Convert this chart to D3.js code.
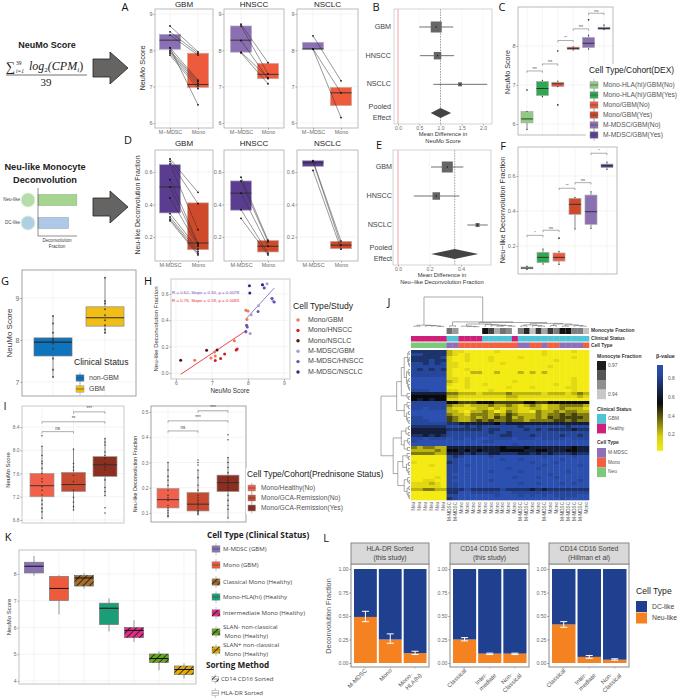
<!DOCTYPE html>
<html>
<head>
<meta charset="utf-8">
<script src="https://cdn.jsdelivr.net/npm/d3@7"></script>
<style>
  html, body { margin: 0; padding: 0; background: #fff; }
  svg { display: block; font-family: "Liberation Sans", Arial, sans-serif; }
</style>
</head>
<body>
<script>
// ---- values ----
// box stats are [q1, median, q3, whisker low, whisker high]
const pairCategories = ['M\u2212MDSC', 'Mono'];
const pairCategoriesD = ['M-MDSC', 'Mono'];

const scoreGbmMdsc = [8.67, 8.51, 8.42, 8.07, 8.0, 7.96, 7.92, 7.87, 8.07];
const scoreGbmMono = [7.96, 7.92, 7.87, 7.18, 7.14, 7.09, 7.02, 6.95, 6.5];
const scoreHnsccMdsc = [8.72, 8.67, 8.27, 7.95, 7.93];
const scoreHnsccMono = [7.66, 7.35, 7.22, 7.25, 7.08];
const scoreNsclcMdsc = [8.4, 8.04, 8.03];
const scoreNsclcMono = [7.16, 6.83, 6.15];
const scoreBoxes = [
  [[8.03, 8.28, 8.44, 7.87, 8.67], [6.98, 7.06, 7.92, 6.5, 7.96]],
  [[7.95, 8.28, 8.67, 7.93, 8.72], [7.22, 7.34, 7.64, 7.08, 7.66]],
  [[8.03, 8.04, 8.22, 8.03, 8.4], [6.48, 6.83, 6.98, 6.15, 7.16]]
];

const fracGbmMdsc = [0.68, 0.666, 0.65, 0.553, 0.508, 0.44, 0.344, 0.323, 0.31, 0.30];
const fracGbmMono = [0.475, 0.405, 0.245, 0.163, 0.153, 0.143, 0.126, 0.112, 0.10, 0.09];
const fracHnsccMdsc = [0.568, 0.545, 0.47, 0.368, 0.315];
const fracHnsccMono = [0.18, 0.17, 0.143, 0.10, 0.09];
const fracNsclcMdsc = [0.67, 0.665, 0.61];
const fracNsclcMono = [0.175, 0.15, 0.125];
const fracBoxes = [
  [[0.348, 0.508, 0.645, 0.30, 0.68], [0.122, 0.163, 0.41, 0.09, 0.475]],
  [[0.365, 0.47, 0.545, 0.315, 0.568], [0.108, 0.143, 0.178, 0.09, 0.18]],
  [[0.635, 0.657, 0.67, 0.61, 0.67], [0.128, 0.15, 0.173, 0.125, 0.175]]
];

const forestRows = ['GBM', 'HNSCC', 'NSCLC', 'Pooled'];
const forestBEst = [0.9, 0.93, 1.46, 1.0];
const forestBLow = [0.5, 0.52, 0.83, 0.77];
const forestBHigh = [1.3, 1.32, 2.1, 1.25];
const forestEEst = [0.313, 0.243, 0.505, 0.36];
const forestELow = [0.21, 0.10, 0.44, 0.21];
const forestEHigh = [0.415, 0.39, 0.57, 0.51];
const forestWeight = [3, 2, 1];

const dexCategories = ['Mono-HLA(hi)/GBM(No)', 'Mono-HLA(hi)/GBM(Yes)', 'Mono/GBM(No)', 'Mono/GBM(Yes)', 'M-MDSC/GBM(No)', 'M-MDSC/GBM(Yes)'];
const dexColors = ['#8FCB85', '#2FA84F', '#EE5A3C', '#CF4A2A', '#8B6FB3', '#5F4398'];
const dexScoreBoxes = [
  [6.03, 6.13, 6.32, 5.86, 6.32], [6.73, 6.91, 7.09, 6.7, 7.12], [6.96, 7.03, 7.07, 6.96, 7.1],
  [7.91, 7.94, 7.97, 7.9, 7.98], [7.96, 8.07, 8.22, 7.92, 8.28], [8.43, 8.45, 8.48, 8.42, 8.54]
];
const dexScoreOutliers = [[6.87], [], [6.49, 7.87], [], [8.67], []];
const dexScoreBrackets = [[0, 1, 7.36, 'ns'], [1, 2, 7.54, 'ns'], [2, 3, 8.14, '**'], [3, 4, 8.44, 'ns'], [4, 5, 8.84, 'ns']];
const dexFracBoxes = [
  [0.07, 0.074, 0.08, 0.066, 0.085], [0.105, 0.135, 0.164, 0.097, 0.183], [0.114, 0.135, 0.16, 0.095, 0.17],
  [0.381, 0.438, 0.472, 0.297, 0.478], [0.324, 0.396, 0.491, 0.30, 0.51], [0.648, 0.659, 0.668, 0.638, 0.68]
];
const dexFracOutliers = [[], [], [0.245], [], [], []];
const dexFracBrackets = [[0, 1, 0.261, '*'], [1, 2, 0.29, 'ns'], [2, 3, 0.53, '**'], [3, 4, 0.562, 'ns'], [4, 5, 0.73, '*']];

const statusCategories = ['non-GBM', 'GBM'];
const statusColors = ['#0D74BD', '#F1BE17'];
const statusBoxes = [[7.62, 7.95, 8.05, 7.12, 8.57], [8.33, 8.53, 8.79, 8.15, 9.48]];
const statusNonGbm = [8.57, 8.39, 8.17, 8.03, 7.99, 7.95, 7.91, 7.79, 7.56, 7.29, 7.12];
const statusGbm = [9.48, 8.93, 8.87, 8.73, 8.59, 8.47, 8.35, 8.25, 8.17];

const studyLabels = ['Mono/GBM', 'Mono/HNSCC', 'Mono/NSCLC', 'M-MDSC/GBM', 'M-MDSC/HNSCC', 'M-MDSC/NSCLC'];
const studyColors = ['#F0764F', '#D0202A', '#5A0F10', '#A89BD8', '#6A55AE', '#3B1F86'];
const studyScoreX = [
  [6.52, 6.97, 7.09, 7.07, 7.62, 7.94, 8.0, 7.97],
  [7.09, 7.24, 7.35, 7.67, 7.7],
  [6.13, 6.85, 7.14],
  [7.94, 8.06, 8.09, 8.29, 8.45, 8.53, 8.41, 8.66, 8.7],
  [7.96, 7.98, 7.94, 8.28, 8.67, 8.73, 8.45],
  [8.04, 8.05, 8.4]
];
const studyFracY = [
  [0.096, 0.114, 0.13, 0.16, 0.245, 0.476, 0.47, 0.406],
  [0.094, 0.11, 0.144, 0.175, 0.182],
  [0.096, 0.172, 0.175],
  [0.311, 0.30, 0.443, 0.51, 0.648, 0.678, 0.67, 0.567, 0.544],
  [0.362, 0.35, 0.316, 0.468, 0.565, 0.54, 0.645],
  [0.663, 0.608, 0.671]
];
const fitMono = [[6.13, -0.01], [7.96, 0.324]];
const fitMdsc = [[7.94, 0.41], [8.73, 0.645]];

const gcaCategories = ['Mono/Healthy(No)', 'Mono/GCA-Remission(No)', 'Mono/GCA-Remission(Yes)'];
const gcaColors = ['#F0604A', '#C84A30', '#8C2E20'];
const gcaScoreBoxes = [[7.2, 7.39, 7.6, 6.83, 8.07], [7.29, 7.41, 7.62, 6.97, 8.02], [7.55, 7.75, 7.89, 7.22, 8.2]];
const gcaScorePoints = [
  [8.25, 8.07, 7.91, 7.81, 7.77, 7.69, 7.6, 7.51, 7.46, 7.37, 7.31, 7.23, 7.14, 7.07, 7.0, 6.94, 6.83],
  [8.02, 7.77, 7.71, 7.66, 7.57, 7.46, 7.31, 7.19, 7.11, 7.03, 6.97],
  [8.2, 8.14, 8.09, 7.97, 7.91, 7.86, 7.77, 7.71, 7.66, 7.49, 7.36, 7.29, 7.22, 7.01, 6.92]
];
const gcaScoreBrackets = [[0, 1, 8.32, 'ns'], [0, 2, 8.49, '**'], [1, 2, 8.66, '***']];
const gcaFracBoxes = [[0.12, 0.153, 0.197, 0.084, 0.30], [0.108, 0.135, 0.181, 0.09, 0.27], [0.185, 0.22, 0.25, 0.08, 0.32]];
const gcaFracPoints = [
  [0.30, 0.27, 0.245, 0.23, 0.21, 0.19, 0.17, 0.16, 0.15, 0.13, 0.12, 0.11, 0.10, 0.09, 0.085],
  [0.31, 0.30, 0.29, 0.27, 0.24, 0.21, 0.19, 0.17, 0.16, 0.15, 0.14, 0.13, 0.12, 0.11, 0.105, 0.10, 0.095],
  [0.41, 0.39, 0.32, 0.30, 0.28, 0.26, 0.24, 0.23, 0.22, 0.21, 0.20, 0.19, 0.17, 0.15, 0.13, 0.115, 0.08]
];
const gcaFracBrackets = [[0, 1, 0.425, 'ns'], [0, 2, 0.465, '***'], [1, 2, 0.505, '***']];

const sortCategories = ['M-MDSC (GBM)', 'Mono (GBM)', 'Classical Mono (Healthy)', 'Mono-HLA(hi) (Healthy', 'Intermediate Mono (Healthy)', 'SLAN- non-classical', 'SLAN+ non-classical'];
const sortColors = ['#8A70B5', '#EE5A3C', '#A66E2A', '#1B9E77', '#E7298A', '#66A61E', '#E6AB02'];
const sortHatched = [false, false, true, false, true, true, true];
const sortBoxes = [
  [8.04, 8.29, 8.44, 7.94, 8.67], [7.01, 7.46, 7.91, 6.49, 7.96], [7.55, 7.85, 7.95, 7.46, 8.03],
  [6.11, 6.72, 6.91, 5.85, 7.09], [5.62, 5.89, 6.0, 5.46, 6.27], [4.69, 4.84, 5.01, 4.4, 5.11], [4.24, 4.43, 4.56, 4.1, 4.66]
];

const facetTitles = [['HLA-DR Sorted', '(this study)'], ['CD14 CD16 Sorted', '(this study)'], ['CD14 CD16 Sorted', '(Hillman et al)']];
const facetCategories = [['M-MDSC', 'Mono', 'Mono-|HLA(hi)'], ['Classical', 'Inter-|mediate', 'Non-|Classical'], ['Classical', 'Inter-|mediate', 'Non-|Classical']];
const facetNeuLike = [[0.49, 0.25, 0.105], [0.25, 0.10, 0.10], [0.41, 0.065, 0.035]];
const facetErrLow = [[0.44, 0.21, 0.09], [0.235, 0.09, 0.09], [0.38, 0.05, 0.03]];
const facetErrHigh = [[0.55, 0.31, 0.125], [0.27, 0.105, 0.105], [0.44, 0.08, 0.045]];

// heatmap columns, then rows as digits: beta = 0.05 + digit / 10
const heatColumns = ['Neu','Neu','Neu','Neu','Neu','Neu','M-MDSC','M-MDSC','Mono','Mono','Mono','Mono','Mono','Mono','Mono','Mono','Mono','Mono',
  'M-MDSC','M-MDSC','Mono','Mono','M-MDSC','Mono','Mono','M-MDSC','M-MDSC','M-MDSC','M-MDSC','Mono'];
const heatClinical = ['Healthy','Healthy','Healthy','Healthy','Healthy','Healthy','GBM','GBM','Healthy','Healthy','Healthy','Healthy','GBM','GBM','GBM','GBM','GBM','Healthy',
  'GBM','GBM','GBM','GBM','GBM','GBM','GBM','GBM','GBM','GBM','GBM','GBM'];
const heatMonocyte = [null,null,null,null,null,null,0.955,0.948,null,null,null,null,0.972,0.963,0.945,0.955,0.951,null,
  0.953,0.968,0.941,0.965,0.946,0.965,0.953,0.972,0.972,0.953,0.953,0.941];
const heatRows = [
  '777777 211000 001000 000010 000100',
  '887777 210100 000000 000010 000000',
  '777778 100100 010000 100000 000100',
  '777877 100100 010000 000000 100000',
  '887878 110000 000100 000000 000000',
  '888888 110000 000000 000001 000000',
  '878787 100100 000000 000000 000000',
  '888888 100022 002000 202020 000000',
  '888888 100000 000000 000000 000000',
  '999999 110100 000000 000000 000100',
  '999999 210100 000001 000000 000100',
  '999999 100100 100000 000000 100100',
  '999999 000100 000010 001000 001100',
  '888999 110000 010000 000000 000100',
  '666666 332221 222232 222212 221232',
  '555555 221111 111122 111111 111121',
  '565655 110000 000011 000000 000000',
  '888888 554445 554444 455445 555555',
  '888888 322122 232232 123212 233332',
  '889888 211112 212122 112212 232221',
  '999999 221022 320132 110322 323322',
  '999999 322133 323243 222323 343433',
  '889999 432232 324342 322324 344443',
  '888999 432234 343343 323333 443433',
  '888888 776666 665766 666666 666666',
  '777777 888787 888888 788888 887888',
  '666666 777777 877888 878787 777677',
  '666666 888888 878878 888888 888888',
  '776767 888888 888778 887888 878878',
  '889888 988989 988889 888988 889888',
  '899999 999999 889999 999999 999999',
  '999999 999999 999998 999999 999999',
  '323322 666666 666566 656666 666566',
  '222232 556565 666555 566556 665566',
  '333322 666767 766777 667676 777677',
  '000000 878999 989999 999989 999899',
  '000000 889999 999899 899999 989999',
  '100000 789999 999999 998999 899999',
  '000100 889899 999999 999989 999989',
  '000000 889999 999989 999899 999999',
  '000000 889999 989999 899999 998999',
  '000000 899999 999999 999998 999999',
  '000010 889999 999998 999899 899999',
  '001100 899999 989999 999999 999989',
  '111210 889999 999999 899899 989899',
  '111110 889999 999999 999999 999999',
  '223322 777877 777877 776767 777777',
  '000000 779988 888998 888888 888888',
  '000000 889999 998999 898989 888899',
  '000000 789999 999999 999999 989999'
];
// dendrograms: [merge height, left, right], numbers are leaf indices
const colTree = [1,
  [0.06, [0.03, 0, 1], [0.05, 2, [0.04, 3, [0.02, 4, 5]]]],
  [0.17, [0.04, 6, 7], [0.15,
    [0.1, [0.03, 8, [0.02, 9, [0.01, 10, 11]]], [0.08, 12, [0.06, 13, [0.05, [0.03, 14, 15], [0.03, 16, 17]]]]],
    [0.12, [0.07, [0.04, 18, 19], [0.05, 20, [0.03, 21, 22]]], [0.1, [0.05, 23, 24], [0.07, [0.03, 25, 26], [0.05, 27, [0.03, 28, 29]]]]]
  ]]
];
const rowTree = [1,
  [0.46,
    [0.3,
      [0.2, [0.08, [0.04, 0, 1], [0.05, [0.03, 2, 3], [0.02, 4, 5]]], [0.12, [0.06, 6, [0.03, 7, 8]], [0.08, [0.04, 9, 10], [0.05, 11, [0.02, 12, 13]]]]],
      [0.1, 14, [0.05, 15, 16]]],
    [0.2, [0.1, 17, [0.05, 18, 19]], [0.12, [0.05, 20, 21], [0.08, 22, [0.04, 23, 24]]]]],
  [0.58,
    [0.3, [0.14, [0.05, 25, 26], [0.06, 27, 28]], [0.2, [0.08, 29, [0.03, 30, 31]], [0.09, 32, 33]]],
    [0.42,
      [0.25, [0.1, 34, [0.05, 35, 36]], [0.12, [0.05, 37, 38], [0.07, 39, [0.04, 40, 41]]]],
      [0.2, [0.08, 42, [0.03, 43, 44]], [0.1, [0.04, 45, 46], [0.06, 47, [0.03, 48, 49]]]]]]
];

const cellTypeColors = { 'M-MDSC': '#8F6FB8', 'Mono': '#F2603F', 'Neu': '#7CC87C' };
const clinicalColors = { 'GBM': '#4FC4D6', 'Healthy': '#CE2079' };

// ---- helpers ----
const svg = d3.select('body').append('svg').attr('width', 680).attr('height', 700);
const defs = svg.append('defs');
const tickGrey = '#6b6b6b';

function txt(x, y, s, size, opts) {
  opts = opts || {};
  const t = svg.append('text')
    .attr('x', x).attr('y', y)
    .attr('font-size', size)
    .attr('fill', opts.fill || '#333')
    .attr('text-anchor', opts.anchor || 'start')
    .attr('dominant-baseline', 'middle')
    .text(s);
  if (opts.bold) t.attr('font-weight', 'bold');
  if (opts.family) t.attr('font-family', opts.family);
  return t;
}

function vtxt(x, y, s, size, opts) {
  return txt(0, 0, s, size, Object.assign({ anchor: 'middle' }, opts))
    .attr('transform', `translate(${x},${y}) rotate(-90)`);
}

// white panel with gridlines, frame and axes. returns the scales
function panel(p) {
  const g = svg.append('g');
  const y = d3.scaleLinear().domain(p.yDomain).range(p.yRange);
  const x = p.x;
  g.selectAll('.gy').data(p.yTicks).enter().append('line')
    .attr('x1', p.x0).attr('x2', p.x1).attr('y1', d => y(d)).attr('y2', d => y(d))
    .attr('stroke', '#ececec').attr('stroke-width', 0.6);
  const xVals = x.domain();
  g.selectAll('.gx').data(xVals).enter().append('line')
    .attr('x1', d => x(d)).attr('x2', d => x(d)).attr('y1', p.y0).attr('y2', p.y1)
    .attr('stroke', '#ececec').attr('stroke-width', 0.6);
  const fs = p.tickSize || 5.5;
  const ya = g.append('g').attr('transform', `translate(${p.x0},0)`)
    .call(d3.axisLeft(y).tickValues(p.yTicks).tickFormat(p.yFormat || d3.format('d')).tickSize(1.5).tickPadding(1));
  ya.select('.domain').remove();
  ya.selectAll('text').attr('font-size', fs).attr('fill', tickGrey);
  ya.selectAll('line').attr('stroke', '#999');
  if (p.showX) {
    const xa = g.append('g').attr('transform', `translate(0,${p.y1})`)
      .call(d3.axisBottom(x).tickSize(1.5).tickPadding(1));
    xa.select('.domain').remove();
    xa.selectAll('text').attr('font-size', p.xTickSize || 5.5).attr('fill', tickGrey);
    xa.selectAll('line').attr('stroke', '#999');
  }
  g.append('rect').attr('x', p.x0).attr('y', p.y0)
    .attr('width', p.x1 - p.x0).attr('height', p.y1 - p.y0)
    .attr('fill', 'none').attr('stroke', p.frame || '#b4b4b4').attr('stroke-width', 0.9);
  return { g, x, y };
}

function box(pn, cx, width, stat, fill, opts) {
  opts = opts || {};
  const y = pn.y, g = pn.g;
  g.append('line').attr('x1', cx).attr('x2', cx).attr('y1', y(stat[3])).attr('y2', y(stat[4]))
    .attr('stroke', opts.whisker || '#444').attr('stroke-width', 0.6);
  g.append('rect').attr('x', cx - width / 2).attr('width', width)
    .attr('y', y(stat[2])).attr('height', y(stat[0]) - y(stat[2]))
    .attr('fill', fill).attr('stroke', opts.stroke || '#9a9a9a').attr('stroke-width', 0.7);
  if (opts.hatch) {
    g.append('rect').attr('x', cx - width / 2).attr('width', width)
      .attr('y', y(stat[2])).attr('height', y(stat[0]) - y(stat[2]))
      .attr('fill', 'url(#hatch)');
  }
  g.append('line').attr('x1', cx - width / 2).attr('x2', cx + width / 2).attr('y1', y(stat[1])).attr('y2', y(stat[1]))
    .attr('stroke', opts.median || '#2b2b2b').attr('stroke-width', opts.medianWidth || 0.9);
}

function dots(pn, cx, vals, r, fill, opacity) {
  pn.g.selectAll('.d').data(vals).enter().append('circle')
    .attr('cx', cx).attr('cy', d => pn.y(d)).attr('r', r)
    .attr('fill', fill).attr('opacity', opacity === undefined ? 1 : opacity);
}

function bracket(pn, xa, xb, v, label, size) {
  const yy = pn.y(v);
  pn.g.append('path').attr('d', d3.line()([[xa, yy + 1.8], [xa, yy], [xb, yy], [xb, yy + 1.8]]))
    .attr('fill', 'none').attr('stroke', '#777').attr('stroke-width', 0.6);
  pn.g.append('text').attr('x', (xa + xb) / 2).attr('y', yy - 1.5).attr('text-anchor', 'middle')
    .attr('font-size', size || 4.5).attr('fill', '#444').text(label);
}

function legendKey(x, y, w, color, opts) {
  opts = opts || {};
  svg.append('line').attr('x1', x + w / 2).attr('x2', x + w / 2).attr('y1', y - w * 0.72).attr('y2', y + w * 0.72)
    .attr('stroke', '#777').attr('stroke-width', 0.5);
  svg.append('rect').attr('x', x).attr('y', y - w / 2.5).attr('width', w).attr('height', w / 1.25)
    .attr('fill', color).attr('stroke', '#999').attr('stroke-width', 0.5);
  if (opts.hatch) {
    svg.append('rect').attr('x', x).attr('y', y - w / 2.5).attr('width', w).attr('height', w / 1.25).attr('fill', 'url(#hatch)');
  }
  svg.append('line').attr('x1', x).attr('x2', x + w).attr('y1', y).attr('y2', y)
    .attr('stroke', '#444').attr('stroke-width', 0.6);
}

function arrow(cy) {
  const shape = [[93, -9], [110, -9], [110, -16], [128, 0], [110, 16], [110, 9], [93, 9]];
  svg.append('polygon').attr('points', shape.map(d => [d[0], d[1] + cy].join(',')).join(' '))
    .attr('fill', '#666462').attr('stroke', '#222').attr('stroke-width', 0.8);
}

const hatch = defs.append('pattern').attr('id', 'hatch').attr('patternUnits', 'userSpaceOnUse')
  .attr('width', 4.5).attr('height', 4.5).attr('patternTransform', 'rotate(45)');
hatch.append('line').attr('x1', 0).attr('x2', 0).attr('y1', 0).attr('y2', 4.5).attr('stroke', '#1a1a1a').attr('stroke-width', 1.6);

// ---- left schematics ----
txt(47, 46, 'NeuMo Score', 9, { bold: true, anchor: 'middle', fill: '#222' });
const serif = '"Liberation Serif", serif';
const formula = svg.append('text').attr('x', 6).attr('y', 71)
  .attr('font-family', serif).attr('font-size', 12).attr('fill', '#222');
formula.append('tspan').attr('font-size', 13).text('\u2211');
formula.append('tspan').attr('x', 16).attr('y', 65).attr('font-size', 5.5).text('39');
formula.append('tspan').attr('x', 16).attr('y', 73).attr('font-size', 5.5).attr('font-style', 'italic').text('i=1');
formula.append('tspan').attr('x', 29).attr('y', 70).attr('font-style', 'italic').text('log');
formula.append('tspan').attr('y', 72).attr('font-size', 7).text('2');
formula.append('tspan').attr('y', 70).attr('font-style', 'italic').text('(CPM');
formula.append('tspan').attr('y', 72).attr('font-size', 7).attr('font-style', 'italic').text('i');
formula.append('tspan').attr('y', 70).text(')');
svg.append('line').attr('x1', 6).attr('x2', 87).attr('y1', 75).attr('y2', 75).attr('stroke', '#333').attr('stroke-width', 0.7);
txt(46, 83, '39', 11, { anchor: 'middle', family: serif, fill: '#222' });
arrow(68);

txt(45, 168, 'Neu-like Monocyte', 9.2, { bold: true, anchor: 'middle', fill: '#222' });
txt(45, 181, 'Deconvolution', 9.2, { bold: true, anchor: 'middle', fill: '#222' });
const cartoonNames = ['Neu-like', 'DC-like'];
const cartoonValues = [0.95, 0.75];
const cartoonFill = ['#A5D58E', '#AFC8E8'];
const cartoonDot = ['#B4DDA8', '#B0D0E2'];
const cartoonX = d3.scaleLinear().domain([0, 1]).range([38, 79]);
const cartoonY = d3.scaleBand().domain(cartoonNames).range([188.5, 234.5]).paddingInner(0.5).paddingOuter(0.25);
cartoonNames.forEach((n, i) => {
  const yc = cartoonY(n) + cartoonY.bandwidth() / 2;
  svg.append('rect').attr('x', 38).attr('y', cartoonY(n)).attr('width', cartoonX(cartoonValues[i]) - 38)
    .attr('height', cartoonY.bandwidth()).attr('fill', cartoonFill[i]).attr('stroke', '#8a9a8a').attr('stroke-width', 0.3);
  svg.append('circle').attr('cx', 28).attr('cy', yc).attr('r', 7).attr('fill', cartoonDot[i])
    .attr('stroke', '#dfeee0').attr('stroke-width', 1);
  txt(20, yc, n, 4.6, { anchor: 'end', fill: '#444' });
});
svg.append('path').attr('d', d3.line()([[38, 188], [38, 236], [77, 236]])).attr('fill', 'none').attr('stroke', '#444').attr('stroke-width', 0.6);
txt(57, 241, 'Deconvolution', 4.6, { anchor: 'middle', fill: '#444' });
txt(57, 247, 'Fraction', 4.6, { anchor: 'middle', fill: '#444' });
arrow(207);

// ---- panels A and D, paired boxes ----
const pairTitles = ['GBM', 'HNSCC', 'NSCLC'];
const panelEdges = [[155, 213], [224, 284], [297, 358]];
const pairCenters = [[170, 198], [241, 268], [313, 341]];
const scorePairs = [[scoreGbmMdsc, scoreGbmMono], [scoreHnsccMdsc, scoreHnsccMono], [scoreNsclcMdsc, scoreNsclcMono]];
const fracPairs = [[fracGbmMdsc, fracGbmMono], [fracHnsccMdsc, fracHnsccMono], [fracNsclcMdsc, fracNsclcMono]];

function pairPanels(o) {
  pairTitles.forEach((title, i) => {
    const x = d3.scalePoint().domain(o.cats).range(pairCenters[i]);
    const pn = panel({
      x, x0: panelEdges[i][0], x1: panelEdges[i][1], y0: o.y0, y1: o.y1,
      yDomain: o.yDomain, yRange: o.yRange, yTicks: o.yTicks, yFormat: o.yFormat, showX: true, xTickSize: 5.4
    });
    box(pn, pairCenters[i][0], 21, o.boxes[i][0], o.colors[0], { stroke: '#b0a8c0', whisker: 'none' });
    box(pn, pairCenters[i][1], 21, o.boxes[i][1], o.colors[1], { stroke: '#c9a79c', whisker: 'none' });
    const a = o.pairs[i][0], b = o.pairs[i][1];
    a.forEach((v, j) => {
      pn.g.append('line').attr('x1', pairCenters[i][0]).attr('x2', pairCenters[i][1])
        .attr('y1', pn.y(v)).attr('y2', pn.y(b[j])).attr('stroke', '#333').attr('stroke-width', 0.5);
    });
    dots(pn, pairCenters[i][0], a, 0.9, '#111');
    dots(pn, pairCenters[i][1], b, 0.9, '#111');
    txt((panelEdges[i][0] + panelEdges[i][1]) / 2, o.titleY, title, 8, { anchor: 'middle', fill: '#222' });
  });
}

pairPanels({
  cats: pairCategories, y0: 9, y1: 128, titleY: 4.6, yDomain: [9, 6], yRange: [14, 123], yTicks: [6, 7, 8, 9],
  boxes: scoreBoxes, pairs: scorePairs, colors: ['#8B6FB3', '#EE5A3C']
});
pairPanels({
  cats: pairCategoriesD, y0: 150, y1: 261, titleY: 144, yDomain: [0.6, 0.2], yRange: [172, 237], yTicks: [0.2, 0.4, 0.6],
  yFormat: d3.format('.1f'), boxes: fracBoxes, pairs: fracPairs, colors: ['#5A3D91', '#CF4A2A']
});
vtxt(143, 68, 'NeuMo Score', 7.4);
vtxt(138, 205, 'Neu-like Deconvolution Fraction', 7);

// ---- panels B and E, forest plots ----
function forest(o) {
  const x = d3.scaleLinear().domain(o.xDomain).range(o.xRange);
  const y = d3.scalePoint().domain(forestRows).range(o.rowRange);
  const size = d3.scaleLinear().domain([1, 3]).range([4, 11]);
  const g = svg.append('g');
  const xa = g.append('g').attr('transform', `translate(0,${o.y1})`)
    .call(d3.axisBottom(x).tickValues(o.ticks).tickFormat(d3.format('.1f')).tickSize(1.5).tickPadding(1));
  xa.select('.domain').remove();
  xa.selectAll('text').attr('font-size', 5).attr('fill', tickGrey);
  xa.selectAll('line').attr('stroke', '#999');
  g.selectAll('.gx').data(o.ticks).enter().append('line')
    .attr('x1', d => x(d)).attr('x2', d => x(d)).attr('y1', o.y0).attr('y2', o.y1)
    .attr('stroke', '#f0f0f0').attr('stroke-width', 0.5);
  g.append('line').attr('x1', x(0)).attr('x2', x(0)).attr('y1', o.y0).attr('y2', o.y1)
    .attr('stroke', '#F79AA5').attr('stroke-width', 0.9);
  g.append('line').attr('x1', x(o.est[3])).attr('x2', x(o.est[3])).attr('y1', o.y0).attr('y2', o.y1)
    .attr('stroke', '#444').attr('stroke-width', 0.5).attr('stroke-dasharray', '1.5,1.2');
  g.append('rect').attr('x', o.x0).attr('y', o.y0).attr('width', o.x1 - o.x0).attr('height', o.y1 - o.y0)
    .attr('fill', 'none').attr('stroke', '#cfcfcf').attr('stroke-width', 0.9);
  forestRows.slice(0, 3).forEach((r, i) => {
    const s = size(forestWeight[i]);
    g.append('line').attr('x1', x(o.low[i])).attr('x2', x(o.high[i])).attr('y1', y(r)).attr('y2', y(r))
      .attr('stroke', '#333').attr('stroke-width', 0.7);
    g.append('rect').attr('x', x(o.est[i]) - s / 2).attr('y', y(r) - s / 2).attr('width', s).attr('height', s)
      .attr('fill', '#666');
    g.append('circle').attr('cx', x(o.est[i])).attr('cy', y(r)).attr('r', 0.7).attr('fill', '#111');
    txt(o.labelX, y(r), r, 7.2, { anchor: 'end', fill: '#444' });
  });
  const py = y('Pooled');
  g.append('polygon').attr('points', [[x(o.low[3]), py], [x(o.est[3]), py - 5], [x(o.high[3]), py], [x(o.est[3]), py + 5]].join(' '))
    .attr('fill', '#444');
  txt(o.labelX, py - 6, 'Pooled', 7.2, { anchor: 'end', fill: '#444' });
  txt(o.labelX, py + 5, 'Effect', 7.2, { anchor: 'end', fill: '#444' });
  txt(o.titleX, o.y1 + 10, o.title[0], 5.8, { anchor: 'middle', fill: '#333' });
  txt(o.titleX, o.y1 + 17.5, o.title[1], 5.8, { anchor: 'middle', fill: '#333' });
}

forest({
  x0: 394, x1: 492, y0: 9, y1: 124, xDomain: [0, 2], xRange: [398, 483], ticks: [0, 0.5, 1, 1.5, 2],
  rowRange: [27, 113], est: forestBEst, low: forestBLow, high: forestBHigh, labelX: 391, titleX: 443,
  title: ['Mean Difference in', 'NeuMo Score']
});
forest({
  x0: 393, x1: 491, y0: 150, y1: 265, xDomain: [0, 0.4], xRange: [398, 461], ticks: [0, 0.2, 0.4],
  rowRange: [167, 254], est: forestEEst, low: forestELow, high: forestEHigh, labelX: 392, titleX: 442,
  title: ['Mean Difference in', 'Neu\u2212like Deconvolution Fraction']
});

// ---- panels C and F ----
function dexPanel(o) {
  const x = d3.scalePoint().domain(dexCategories).range(o.xRange);
  const pn = panel({
    x, x0: o.x0, x1: o.x1, y0: o.y0, y1: o.y1, yDomain: o.yDomain, yRange: o.yRange, yTicks: o.yTicks,
    yFormat: o.yFormat, tickSize: 5.5
  });
  dexCategories.forEach((c, i) => {
    box(pn, x(c), 12, o.boxes[i], dexColors[i], { stroke: '#aaa' });
    dots(pn, x(c), o.outliers[i], 0.8, '#111');
    dots(pn, x(c), [o.boxes[i][3], o.boxes[i][4]], 0.6, '#222');
  });
  o.brackets.forEach(b => bracket(pn, x(dexCategories[b[0]]), x(dexCategories[b[1]]), b[2], b[3], 4));
}
dexPanel({
  x0: 518, x1: 613, y0: 7, y1: 135, xRange: [527, 604], yDomain: [8, 6], yRange: [46, 124], yTicks: [6, 7, 8],
  boxes: dexScoreBoxes, outliers: dexScoreOutliers, brackets: dexScoreBrackets
});
dexPanel({
  x0: 518, x1: 617, y0: 147, y1: 274, xRange: [527, 607], yDomain: [0.6, 0.2], yRange: [176, 246], yTicks: [0.2, 0.4, 0.6],
  yFormat: d3.format('.1f'), boxes: dexFracBoxes, outliers: dexFracOutliers, brackets: dexFracBrackets
});
vtxt(508, 72, 'NeuMo Score', 7.2);
vtxt(503, 210, 'Neu\u2212like Deconvolution Fraction', 7.4);

// legend for C sits over the panel
svg.append('rect').attr('x', 586).attr('y', 64).attr('width', 94).attr('height', 76).attr('fill', '#fff');
txt(589, 71, 'Cell Type/Cohort(DEX)', 8.4, { fill: '#222' });
dexCategories.forEach((c, i) => {
  legendKey(590, 85 + i * 10, 8, dexColors[i]);
  txt(603, 85 + i * 10, c, 6.7, { fill: '#555' });
});

// ---- panel G ----
{
  const x = d3.scalePoint().domain(statusCategories).range([53, 105]);
  const pn = panel({
    x, x0: 22, x1: 136, y0: 270, y1: 396, yDomain: [9, 7], yRange: [298, 382], yTicks: [7, 8, 9], tickSize: 7, frame: '#999'
  });
  box(pn, x('non-GBM'), 38, statusBoxes[0], statusColors[0], { stroke: '#777', medianWidth: 1.2 });
  box(pn, x('GBM'), 38, statusBoxes[1], statusColors[1], { stroke: '#888', medianWidth: 1.2 });
  dots(pn, x('non-GBM'), statusNonGbm, 1, '#333', 0.8);
  dots(pn, x('GBM'), statusGbm, 1, '#333', 0.8);
  vtxt(10, 333, 'NeuMo Score', 8);
  txt(74, 363, 'Clinical Status', 8.6, { fill: '#222' });
  statusCategories.forEach((c, i) => {
    legendKey(76, 378 + i * 11, 8, statusColors[i]);
    txt(89, 378 + i * 11, c, 7, { fill: '#444' });
  });
}

// ---- panel H ----
{
  const x = d3.scaleLinear().domain([6, 9]).range([176, 284]);
  const y = d3.scaleLinear().domain([0, 0.6]).range([373, 294]);
  const g = svg.append('g');
  const gridX = [6, 7, 8, 9], gridY = [0, 0.2, 0.4, 0.6];
  g.selectAll('.v').data(gridX).enter().append('line').attr('x1', d => x(d)).attr('x2', d => x(d)).attr('y1', 279).attr('y2', 379)
    .attr('stroke', '#ececec').attr('stroke-width', 0.6);
  g.selectAll('.h').data(gridY).enter().append('line').attr('y1', d => y(d)).attr('y2', d => y(d)).attr('x1', 171).attr('x2', 290)
    .attr('stroke', '#ececec').attr('stroke-width', 0.6);
  const xa = g.append('g').attr('transform', 'translate(0,379)')
    .call(d3.axisBottom(x).tickValues(gridX).tickFormat(d3.format('d')).tickSize(1.5).tickPadding(1));
  const ya = g.append('g').attr('transform', 'translate(171,0)')
    .call(d3.axisLeft(y).tickValues(gridY).tickFormat(d3.format('.1f')).tickSize(1.5).tickPadding(1));
  [xa, ya].forEach(a => {
    a.select('.domain').remove();
    a.selectAll('text').attr('font-size', 5).attr('fill', tickGrey);
    a.selectAll('line').attr('stroke', '#999');
  });
  g.append('rect').attr('x', 171).attr('y', 279).attr('width', 119).attr('height', 100)
    .attr('fill', 'none').attr('stroke', '#c4c4c4').attr('stroke-width', 0.9);
  const line = d3.line().x(d => x(d[0])).y(d => y(d[1]));
  g.append('path').attr('d', line(fitMono)).attr('stroke', '#E8303A').attr('stroke-width', 0.9).attr('fill', 'none');
  g.append('path').attr('d', line(fitMdsc)).attr('stroke', '#8C6CC4').attr('stroke-width', 0.9).attr('fill', 'none');
  studyLabels.forEach((s, i) => {
    g.selectAll('.p').data(studyScoreX[i]).enter().append('circle')
      .attr('cx', d => x(d)).attr('cy', (d, j) => y(studyFracY[i][j])).attr('r', 1.5).attr('fill', studyColors[i]);
    svg.append('circle').attr('cx', 298).attr('cy', 320 + i * 10.4).attr('r', 1.7).attr('fill', studyColors[i]);
    txt(308, 320 + i * 10.4, s, 7, { fill: '#444' });
  });
  txt(172, 293, 'R = 0.62, Slope = 0.30, p = 0.0078', 4.4, { fill: '#7A4FB5' });
  txt(172, 301, 'R = 0.76, Slope = 0.18, p = 0.0083', 4.4, { fill: '#E8303A' });
  txt(230, 391, 'NeuMo Score', 6.4, { anchor: 'middle' });
  vtxt(156, 329, 'Neu-like Deconvolution Fraction', 6);
  txt(293, 307, 'Cell Type/Study', 8.6, { fill: '#222' });
}

// ---- panel I ----
function gcaPanel(o) {
  const x = d3.scalePoint().domain(gcaCategories).range(o.xRange);
  const pn = panel({
    x, x0: o.x0, x1: o.x1, y0: 406, y1: o.y1, yDomain: o.yDomain, yRange: o.yRange, yTicks: o.yTicks,
    yFormat: d3.format('.1f'), tickSize: 4.8, frame: o.frame
  });
  gcaCategories.forEach((c, i) => {
    box(pn, x(c), o.width, o.boxes[i], gcaColors[i], { stroke: '#999' });
    dots(pn, x(c), o.points[i], 0.8, '#222', 0.75);
  });
  o.brackets.forEach(b => bracket(pn, x(gcaCategories[b[0]]), x(gcaCategories[b[1]]), b[2], b[3], 4.6));
}
gcaPanel({
  x0: 22, x1: 124, y1: 523, xRange: [42, 105], width: 24, yDomain: [8.4, 6.8], yRange: [427, 520], yTicks: [6.8, 7.2, 7.6, 8, 8.4],
  boxes: gcaScoreBoxes, points: gcaScorePoints, brackets: gcaScoreBrackets, frame: '#c4c4c4'
});
gcaPanel({
  x0: 151, x1: 246, y1: 522, xRange: [168, 228], width: 22, yDomain: [0.5, 0.1], yRange: [412, 513], yTicks: [0.1, 0.2, 0.3, 0.4, 0.5],
  boxes: gcaFracBoxes, points: gcaFracPoints, brackets: gcaFracBrackets, frame: '#999'
});
vtxt(8, 470, 'NeuMo Score', 5.8);
vtxt(136, 474, 'Neu-like Deconvolution Fraction', 5.4);
svg.append('rect').attr('x', 246).attr('y', 468).attr('width', 150).attr('height', 46).attr('fill', '#fff');
txt(247, 475, 'Cell Type/Cohort(Prednisone Status)', 8.4, { fill: '#222' });
gcaCategories.forEach((c, i) => {
  legendKey(248, 488 + i * 10, 7.5, gcaColors[i]);
  txt(261, 488 + i * 10, c, 6.7, { fill: '#555' });
});

// ---- panel J heatmap ----
{
  const x = d3.scaleBand().domain(d3.range(heatColumns.length)).range([411, 589]);
  const y = d3.scaleBand().domain(d3.range(heatRows.length)).range([350, 500]);
  const color = d3.scaleLinear()
    .domain([0.05, 0.2, 0.55, 0.85, 0.95])
    .range(['#F5EB14', '#D8D012', '#0a0a0a', '#27479C', '#2C50B0']);
  const mono = d3.scaleLinear().domain([0.94, 0.972]).range(['#c8c8c8', '#111']);
  const g = svg.append('g');
  heatRows.forEach((row, r) => {
    const digits = row.replace(/\s/g, '').split('').map(Number);
    g.selectAll(`.r${r}`).data(digits).enter().append('rect')
      .attr('x', (d, c) => x(c)).attr('y', y(r)).attr('width', x.bandwidth() + 0.3).attr('height', y.bandwidth() + 0.3)
      .attr('fill', d => color(0.05 + d / 10));
  });
  heatColumns.forEach((c, i) => {
    if (heatMonocyte[i] !== null) {
      g.append('rect').attr('x', x(i)).attr('y', 328).attr('width', x.bandwidth()).attr('height', 6).attr('fill', mono(heatMonocyte[i]));
    }
    g.append('rect').attr('x', x(i)).attr('y', 336).attr('width', x.bandwidth() + 0.3).attr('height', 5.5).attr('fill', clinicalColors[heatClinical[i]]);
    g.append('rect').attr('x', x(i)).attr('y', 342.5).attr('width', x.bandwidth() + 0.3).attr('height', 5.5).attr('fill', cellTypeColors[c]);
    const cx = x(i) + x.bandwidth() / 2;
    g.append('text').attr('transform', `translate(${cx + 1.5},502) rotate(-90)`)
      .attr('text-anchor', 'end').attr('font-size', 4.6).attr('fill', '#555').text(c);
  });
  txt(591, 331, 'Monocyte Fraction', 4.9, { bold: true });
  txt(591, 338.5, 'Clinical Status', 4.9, { bold: true });
  txt(591, 345.5, 'Cell Type', 4.9, { bold: true });

  // dendrograms, a node returns its centre
  const hTop = d3.scaleLinear().domain([0, 1]).range([327, 297]);
  const hLeft = d3.scaleLinear().domain([0, 1]).range([410, 381]);
  const treeStroke = '#555';
  function drawTop(node) {
    if (typeof node === 'number') return { pos: x(node) + x.bandwidth() / 2, h: 0 };
    const a = drawTop(node[1]), b = drawTop(node[2]);
    g.append('path').attr('d', d3.line()([[a.pos, hTop(a.h)], [a.pos, hTop(node[0])], [b.pos, hTop(node[0])], [b.pos, hTop(b.h)]]))
      .attr('fill', 'none').attr('stroke', treeStroke).attr('stroke-width', 0.5);
    return { pos: (a.pos + b.pos) / 2, h: node[0] };
  }
  function drawLeft(node) {
    if (typeof node === 'number') return { pos: y(node) + y.bandwidth() / 2, h: 0 };
    const a = drawLeft(node[1]), b = drawLeft(node[2]);
    g.append('path').attr('d', d3.line()([[hLeft(a.h), a.pos], [hLeft(node[0]), a.pos], [hLeft(node[0]), b.pos], [hLeft(b.h), b.pos]]))
      .attr('fill', 'none').attr('stroke', treeStroke).attr('stroke-width', 0.5);
    return { pos: (a.pos + b.pos) / 2, h: node[0] };
  }
  drawTop(colTree);
  drawLeft(rowTree);

  // annotation legends
  txt(597, 357, 'Monocyte Fraction', 5, { bold: true });
  const monoSteps = [0.97, 0.96, 0.95, 0.94];
  const stepY = d3.scaleBand().domain(monoSteps).range([361, 399]);
  monoSteps.forEach(m => {
    g.append('rect').attr('x', 597).attr('y', stepY(m)).attr('width', 9).attr('height', stepY.bandwidth() + 0.2).attr('fill', mono(m));
  });
  txt(608, 366, '0.97', 4.8, { fill: '#555' });
  txt(608, 395, '0.94', 4.8, { fill: '#555' });

  txt(597, 410, 'Clinical Status', 5, { bold: true });
  Object.keys(clinicalColors).forEach((k, i) => {
    g.append('rect').attr('x', 597).attr('y', 414 + i * 9.7).attr('width', 9).attr('height', 9.7).attr('fill', clinicalColors[k]);
    txt(608, 419 + i * 10, k, 4.8, { fill: '#555' });
  });
  txt(597, 443, 'Cell Type', 5, { bold: true });
  Object.keys(cellTypeColors).forEach((k, i) => {
    g.append('rect').attr('x', 597).attr('y', 448 + i * 9.7).attr('width', 9).attr('height', 9.7).attr('fill', cellTypeColors[k]);
    txt(608, 453 + i * 9.6, k, 4.8, { fill: '#555' });
  });

  // beta colour bar
  txt(656, 357, '\u03b2-value', 5.4, { bold: true });
  const barY = d3.scaleLinear().domain([0.2, 0.8]).range([435, 379]);
  const grad = defs.append('linearGradient').attr('id', 'beta').attr('x1', 0).attr('x2', 0).attr('y1', 1).attr('y2', 0);
  color.domain().forEach(s => {
    grad.append('stop').attr('offset', (s - 0.05) / 0.9).attr('stop-color', color(s));
  });
  g.append('rect').attr('x', 657).attr('y', barY(0.95)).attr('width', 6).attr('height', barY(0.03) - barY(0.95)).attr('fill', 'url(#beta)');
  [0.2, 0.4, 0.6, 0.8].forEach(t => txt(668, barY(t), d3.format('.1f')(t), 4.8, { fill: '#555' }));
}

// ---- panel K ----
{
  const x = d3.scalePoint().domain(sortCategories).range([34, 184]);
  const pn = panel({
    x, x0: 19, x1: 196, y0: 550, y1: 684, yDomain: [8, 4], yRange: [574, 681], yTicks: [4, 5, 6, 7, 8], tickSize: 5, frame: '#bbb'
  });
  sortCategories.forEach((c, i) => {
    box(pn, x(c), 19, sortBoxes[i], sortColors[i], { stroke: '#777', median: '#111', medianWidth: 1, hatch: sortHatched[i], whisker: '#555' });
  });
  vtxt(9, 617, 'NeuMo Score', 6);
  const kFont = '"Open Sans", sans-serif';
  txt(207, 536, 'Cell Type (Clinical Status)', 8.2, { bold: true, family: kFont, fill: '#222' });
  const keyY = [549, 565, 582, 597, 613, 632, 650];
  sortCategories.forEach((c, i) => {
    legendKey(212, keyY[i], 8, sortColors[i], { hatch: sortHatched[i] });
    const yy = i < 5 ? keyY[i] : keyY[i] - 4.2;
    txt(223, yy, c, 6.1, { family: kFont, fill: '#444' });
    if (i >= 5) txt(224.5, yy + 8.4, 'Mono (Healthy)', 6.1, { family: kFont, fill: '#444' });
  });
  txt(206, 666, 'Sorting Method', 8.2, { bold: true, family: kFont, fill: '#222' });
  legendKey(212, 679, 6.5, '#fff', { hatch: true });
  txt(221, 679, 'CD14 CD16 Sorted', 6.1, { family: kFont, fill: '#444' });
  legendKey(212, 693, 6.5, '#fff');
  txt(221, 693, 'HLA-DR Sorted', 6.1, { family: kFont, fill: '#444' });
}

// ---- panel L ----
{
  const facetEdges = [[351, 429], [450, 529], [549, 629]];
  const y = d3.scaleLinear().domain([0, 1]).range([663, 569]);
  const dcColor = '#1F3F8F', neuColor = '#F58220';
  facetTitles.forEach((title, f) => {
    const x0 = facetEdges[f][0], x1 = facetEdges[f][1];
    const x = d3.scaleBand().domain(facetCategories[f]).range([x0 + 3, x1 - 2.5]).paddingInner(0.08);
    const g = svg.append('g');
    const table = facetCategories[f].map((c, i) => ({ cat: c, neu: facetNeuLike[f][i], dc: 1 - facetNeuLike[f][i] }));
    const stacked = d3.stack().keys(['neu', 'dc'])(table);
    stacked.forEach(layer => {
      g.selectAll('.s').data(layer).enter().append('rect')
        .attr('x', d => x(d.data.cat)).attr('width', x.bandwidth())
        .attr('y', d => y(d[1])).attr('height', d => y(d[0]) - y(d[1]))
        .attr('fill', layer.key === 'neu' ? neuColor : dcColor);
    });
    facetCategories[f].forEach((c, i) => {
      const cx = x(c) + x.bandwidth() / 2;
      g.append('path').attr('d', d3.line()([[cx - 3.5, y(facetErrHigh[f][i])], [cx + 3.5, y(facetErrHigh[f][i])]]))
        .attr('stroke', '#fff').attr('stroke-width', 1);
      g.append('path').attr('d', d3.line()([[cx - 3.5, y(facetErrLow[f][i])], [cx + 3.5, y(facetErrLow[f][i])]]))
        .attr('stroke', '#fff').attr('stroke-width', 1);
      g.append('line').attr('x1', cx).attr('x2', cx).attr('y1', y(facetErrLow[f][i])).attr('y2', y(facetErrHigh[f][i]))
        .attr('stroke', '#fff').attr('stroke-width', 1);
      const parts = c.split('|');
      const label = g.append('text').attr('transform', `translate(${cx + 2},671) rotate(-45)`)
        .attr('text-anchor', 'end').attr('font-size', 6).attr('fill', '#555');
      parts.forEach((p, j) => {
        label.append('tspan').attr('x', parts.length > 1 ? (j === 0 ? -6 : 0) : 0).attr('dy', j === 0 ? 0 : 7).text(p);
      });
      g.append('line').attr('x1', cx).attr('x2', cx).attr('y1', 667).attr('y2', 668.5).attr('stroke', '#888').attr('stroke-width', 0.5);
    });
    const ya = g.append('g').attr('transform', `translate(${x0},0)`)
      .call(d3.axisLeft(y).tickValues([0, 0.25, 0.5, 0.75, 1]).tickFormat(d3.format('.2f')).tickSize(1.5).tickPadding(1));
    ya.select('.domain').remove();
    ya.selectAll('text').attr('font-size', 5.2).attr('fill', tickGrey);
    ya.selectAll('line').attr('stroke', '#888');
    g.append('rect').attr('x', x0).attr('y', 564).attr('width', x1 - x0).attr('height', 103)
      .attr('fill', 'none').attr('stroke', '#888').attr('stroke-width', 1);
    g.append('rect').attr('x', x0).attr('y', 543).attr('width', x1 - x0).attr('height', 21)
      .attr('fill', '#D9D9D9').attr('stroke', '#888').attr('stroke-width', 1);
    txt((x0 + x1) / 2, 549.5, title[0], 6.8, { anchor: 'middle', fill: '#444' });
    txt((x0 + x1) / 2, 558, title[1], 6.8, { anchor: 'middle', fill: '#444' });
  });
  vtxt(329, 616, 'Deconvolution Fraction', 7.4, { fill: '#555' });
  txt(636, 592, 'Cell Type', 8.6, { fill: '#222' });
  ['DC-like', 'Neu-like'].forEach((k, i) => {
    svg.append('rect').attr('x', 636).attr('y', 601 + i * 11.5).attr('width', 11).attr('height', 11)
      .attr('fill', i === 0 ? dcColor : neuColor);
    txt(652, 607 + i * 11.5, k, 6.8, { fill: '#444' });
  });
}

// ---- panel letters ----
const panelLetters = ['A', 'B', 'C', 'D', 'E', 'F', 'G', 'H', 'I', 'J', 'K', 'L'];
const letterX = [125, 376, 502, 128, 379, 503, 5, 148, 5, 389, 8, 326];
const letterY = [8.5, 8.5, 8.5, 141, 146, 147, 282, 282, 407, 303, 538, 539];
panelLetters.forEach((l, i) => {
  txt(letterX[i], letterY[i], l, 11, { anchor: 'middle', family: '"Open Sans", sans-serif', fill: '#111' });
});
</script>
</body>
</html>
